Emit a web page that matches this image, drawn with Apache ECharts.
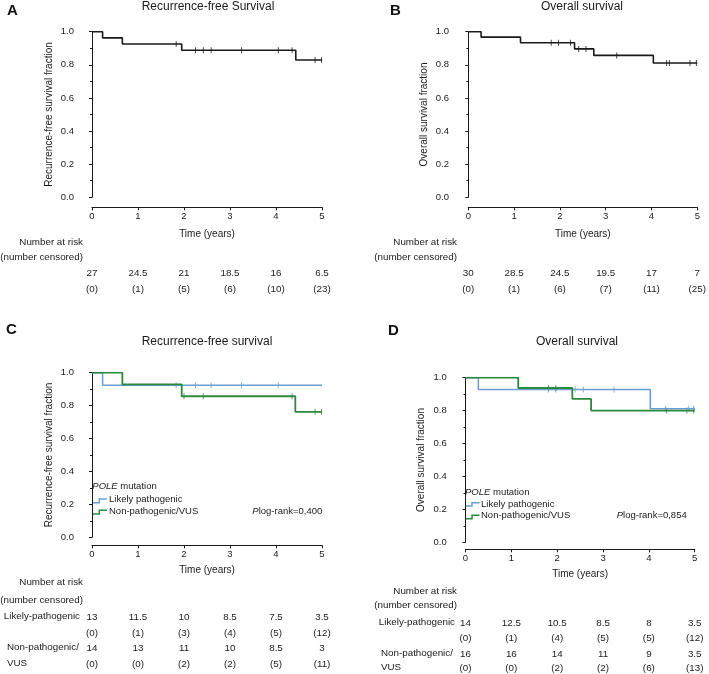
<!DOCTYPE html>
<html>
<head>
<meta charset="utf-8">
<script src="https://cdn.jsdelivr.net/npm/echarts/dist/echarts.min.js"></script>
<style>
  html, body { margin: 0; padding: 0; background: #fff; }
  #chart { width: 709px; height: 674px; }
</style>
</head>
<body>
<div id="chart"></div>
<script>
// ---- data ----
const years = [0, 1, 2, 3, 4, 5];

// A: recurrence-free survival, whole cohort
const rfsTimes = [0, 0.23, 0.66, 1.95, 4.43, 5];
const rfsSurv = [1, 0.963, 0.926, 0.888, 0.829, 0.829];
const rfsCensor = [1.83, 2.25, 2.42, 2.59, 3.25, 4.05, 4.35, 4.85, 4.99];
const rfsAtRisk = ["27", "24.5", "21", "18.5", "16", "6.5"];
const rfsCensored = ["(0)", "(1)", "(5)", "(6)", "(10)", "(23)"];

// B: overall survival, whole cohort
const osTimes = [0, 0.28, 1.14, 2.32, 2.74, 4.04, 5];
const osSurv = [1, 0.967, 0.933, 0.896, 0.857, 0.811, 0.811];
const osCensor = [1.81, 1.97, 2.23, 2.41, 2.57, 3.24, 4.33, 4.39, 4.84, 4.98];
const osAtRisk = ["30", "28.5", "24.5", "19.5", "17", "7"];
const osCensored = ["(0)", "(1)", "(6)", "(7)", "(11)", "(25)"];

// C: recurrence-free survival by POLE mutation
const rfsLpTimes = [0, 0.23, 5];
const rfsLpSurv = [1, 0.923, 0.923];
const rfsLpCensor = [1.83, 2.25, 2.59, 3.25, 4.05];
const rfsNpTimes = [0, 0.66, 1.95, 4.42, 5];
const rfsNpSurv = [1, 0.929, 0.857, 0.762, 0.762];
const rfsNpCensor = [2.0, 2.42, 4.35, 4.85, 4.99];
const rfsLpAtRisk = ["13", "11.5", "10", "8.5", "7.5", "3.5"];
const rfsLpCensored = ["(0)", "(1)", "(3)", "(4)", "(5)", "(12)"];
const rfsNpAtRisk = ["14", "13", "11", "10", "8.5", "3"];
const rfsNpCensored = ["(0)", "(0)", "(2)", "(2)", "(5)", "(11)"];

// D: overall survival by POLE mutation
const osLpTimes = [0, 0.28, 4.03, 5];
const osLpSurv = [1, 0.929, 0.812, 0.812];
const osLpCensor = [1.81, 1.97, 2.39, 2.57, 3.24, 4.36, 4.87, 4.98];
const osNpTimes = [0, 1.15, 2.33, 2.74, 5];
const osNpSurv = [1, 0.9375, 0.871, 0.8, 0.8];
const osNpCensor = [1.81, 1.97, 4.39, 4.83, 4.98];
const osLpAtRisk = ["14", "12.5", "10.5", "8.5", "8", "3.5"];
const osLpCensored = ["(0)", "(1)", "(4)", "(5)", "(5)", "(12)"];
const osNpAtRisk = ["16", "16", "14", "11", "9", "3.5"];
const osNpCensored = ["(0)", "(0)", "(2)", "(2)", "(6)", "(13)"];

// ---- styling ----
const FONT = '"Liberation Sans", Arial, sans-serif';
const INK = "#1a1a1a";
const BLUE = "#6b9cd4";
const GREEN = "#2b8a3c";
const TABLE_SIZE = 9.8;

const grids = [];
const xAxes = [];
const yAxes = [];
const series = [];

function levelAt(times, surv, t) {
  let s = surv[0];
  for (let i = 0; i < times.length; i++) if (times[i] <= t) s = surv[i];
  return s;
}

// one panel: grid + y axis + time axis + rows of text axes for the risk table
function addPanel(box, yName, yOffset, xOffset, nameGapX, rows) {
  const g = grids.length;
  grids.push(box);
  yAxes.push({
    gridIndex: g, type: "value", min: 0, max: 1, interval: 0.2, offset: yOffset,
    name: yName, nameLocation: "middle", nameGap: 25,
    nameTextStyle: { fontFamily: FONT, fontSize: 10, color: INK },
    axisLine: { show: true, lineStyle: { color: INK, width: 1 } },
    axisTick: { show: true, length: 3, lineStyle: { color: INK } },
    minorTick: { show: true, splitNumber: 2, length: 2, lineStyle: { color: INK } },
    splitLine: { show: false },
    axisLabel: { fontFamily: FONT, fontSize: 9.5, color: INK, margin: 5, formatter: v => v.toFixed(1) }
  });
  const xMain = xAxes.length;
  xAxes.push({
    gridIndex: g, type: "value", min: 0, max: 5, interval: 1, offset: xOffset,
    name: "Time (years)", nameLocation: "middle", nameGap: nameGapX,
    nameTextStyle: { fontFamily: FONT, fontSize: 10, color: INK },
    axisLine: { show: true, onZero: false, lineStyle: { color: INK, width: 1.2 } },
    axisTick: { show: true, length: 3, lineStyle: { color: INK } },
    splitLine: { show: false },
    axisLabel: { fontFamily: FONT, fontSize: 9.5, color: INK, margin: 4.5 }
  });
  rows.forEach(r => {
    xAxes.push({
      gridIndex: g, type: "value", min: 0, max: 5, interval: 1, offset: r.offset,
      position: "bottom",
      axisLine: { show: false }, axisTick: { show: false }, splitLine: { show: false },
      axisLabel: { fontFamily: FONT, fontSize: TABLE_SIZE, color: INK, margin: 0,
        formatter: v => r.values[years.indexOf(v)] }
    });
  });
  return { g, x: xMain, y: g };
}

function addCurve(p, times, surv, censor, color, width) {
  series.push({
    type: "line", step: "end", xAxisIndex: p.x, yAxisIndex: p.y,
    symbol: "none", silent: true, animation: false,
    lineStyle: { color: color, width: width },
    data: times.map((t, i) => [t, surv[i]])
  });
  series.push({
    type: "scatter", xAxisIndex: p.x, yAxisIndex: p.y, silent: true, animation: false,
    symbol: "rect", symbolSize: [1, 6],
    itemStyle: { color: color },
    data: censor.map(t => [t, levelAt(times, surv, t)])
  });
}

const pA = addPanel({ left: 92, width: 230, top: 31.7, height: 165.6 },
  "Recurrence-free survival fraction", 13, 10, 22,
  [{ offset: 71, values: rfsAtRisk }, { offset: 87, values: rfsCensored }]);
const pB = addPanel({ left: 468.3, width: 230, top: 31.7, height: 165.6 },
  "Overall survival fraction", 14.3, 10, 22,
  [{ offset: 71, values: osAtRisk }, { offset: 87, values: osCensored }]);
const pC = addPanel({ left: 92, width: 230, top: 372.7, height: 164.6 },
  "Recurrence-free survival fraction", 13, 8, 20,
  [{ offset: 75, values: rfsLpAtRisk }, { offset: 91, values: rfsLpCensored },
   { offset: 106, values: rfsNpAtRisk }, { offset: 122, values: rfsNpCensored }]);
const pD = addPanel({ left: 465.5, width: 229.2, top: 377.7, height: 164.6 },
  "Overall survival fraction", 13.8, 7, 20,
  [{ offset: 76, values: osLpAtRisk }, { offset: 91, values: osLpCensored },
   { offset: 107, values: osNpAtRisk }, { offset: 121, values: osNpCensored }]);

addCurve(pA, rfsTimes, rfsSurv, rfsCensor, INK, 1.6);
addCurve(pB, osTimes, osSurv, osCensor, INK, 1.6);
addCurve(pC, rfsLpTimes, rfsLpSurv, rfsLpCensor, BLUE, 1.5);
addCurve(pC, rfsNpTimes, rfsNpSurv, rfsNpCensor, GREEN, 1.8);
addCurve(pD, osLpTimes, osLpSurv, osLpCensor, BLUE, 1.5);
addCurve(pD, osNpTimes, osNpSurv, osNpCensor, GREEN, 1.8);

// ---- text and legend pieces ----
function txt(x, y, text, opts) {
  return {
    type: "text", x: x, y: y, silent: true,
    style: Object.assign({ text: text, fill: INK, fontFamily: FONT, fontSize: TABLE_SIZE,
      align: "left", verticalAlign: "middle" }, opts || {})
  };
}
const italic = { i: { fontStyle: "italic", fontFamily: FONT, fontSize: 9.5, fill: INK } };
function stepIcon(x, yLow, yHigh, color) {
  return {
    type: "polyline", silent: true,
    shape: { points: [[x, yLow], [x + 7, yLow], [x + 7, yHigh], [x + 14.5, yHigh]] },
    style: { stroke: color, lineWidth: 1.5, fill: null }
  };
}

const graphics = [
  txt(7, 11, "A", { fontSize: 15, fontWeight: "bold", fill: "#111" }),
  txt(390, 11, "B", { fontSize: 15, fontWeight: "bold", fill: "#111" }),
  txt(6, 330, "C", { fontSize: 15, fontWeight: "bold", fill: "#111" }),
  txt(388, 331, "D", { fontSize: 15, fontWeight: "bold", fill: "#111" }),
  txt(208, 6.5, "Recurrence-free Survival", { fontSize: 12, align: "center" }),
  txt(582, 6.5, "Overall survival", { fontSize: 12, align: "center" }),
  txt(207, 342, "Recurrence-free survival", { fontSize: 12, align: "center" }),
  txt(577, 342, "Overall survival", { fontSize: 12, align: "center" }),

  txt(83, 242, "Number at risk", { align: "right" }),
  txt(83, 257, "(number censored)", { align: "right" }),
  txt(457, 242, "Number at risk", { align: "right" }),
  txt(457, 257, "(number censored)", { align: "right" }),

  txt(83, 582, "Number at risk", { align: "right" }),
  txt(83, 600, "(number censored)", { align: "right" }),
  txt(80, 616, "Likely-pathogenic", { align: "right" }),
  txt(7, 647, "Non-pathogenic/"),
  txt(7, 663, "VUS"),
  txt(457, 591, "Number at risk", { align: "right" }),
  txt(457, 605, "(number censored)", { align: "right" }),
  txt(455, 622, "Likely-pathogenic", { align: "right" }),
  txt(381, 653, "Non-pathogenic/"),
  txt(381, 667, "VUS"),

  txt(92.3, 486.7, "{i|POLE} mutation", { rich: italic, fontSize: 9.5 }),
  stepIcon(92.3, 502.7, 499, BLUE),
  txt(109, 499.5, "Likely pathogenic", { fontSize: 9.5 }),
  stepIcon(92.3, 514, 510.3, GREEN),
  txt(109, 511, "Non-pathogenic/VUS", { fontSize: 9.5 }),
  txt(322.3, 511, "{i|P}log-rank=0,400", { align: "right", rich: italic, fontSize: 9.5 }),

  txt(465, 492.3, "{i|POLE} mutation", { rich: italic, fontSize: 9.5 }),
  stepIcon(465, 506, 502.7, BLUE),
  txt(481, 504, "Likely pathogenic", { fontSize: 9.5 }),
  stepIcon(465, 518.7, 515.3, GREEN),
  txt(481, 515.5, "Non-pathogenic/VUS", { fontSize: 9.5 }),
  txt(686.7, 515.5, "{i|P}log-rank=0,854", { align: "right", rich: italic, fontSize: 9.5 })
];

const chart = echarts.init(document.getElementById("chart"), null, { renderer: "canvas" });
const option = {
  backgroundColor: "#fff",
  animation: false,
  grid: grids,
  xAxis: xAxes,
  yAxis: yAxes,
  series: series,
  graphic: { elements: graphics }
};
option && chart.setOption(option);
</script>
</body>
</html>
